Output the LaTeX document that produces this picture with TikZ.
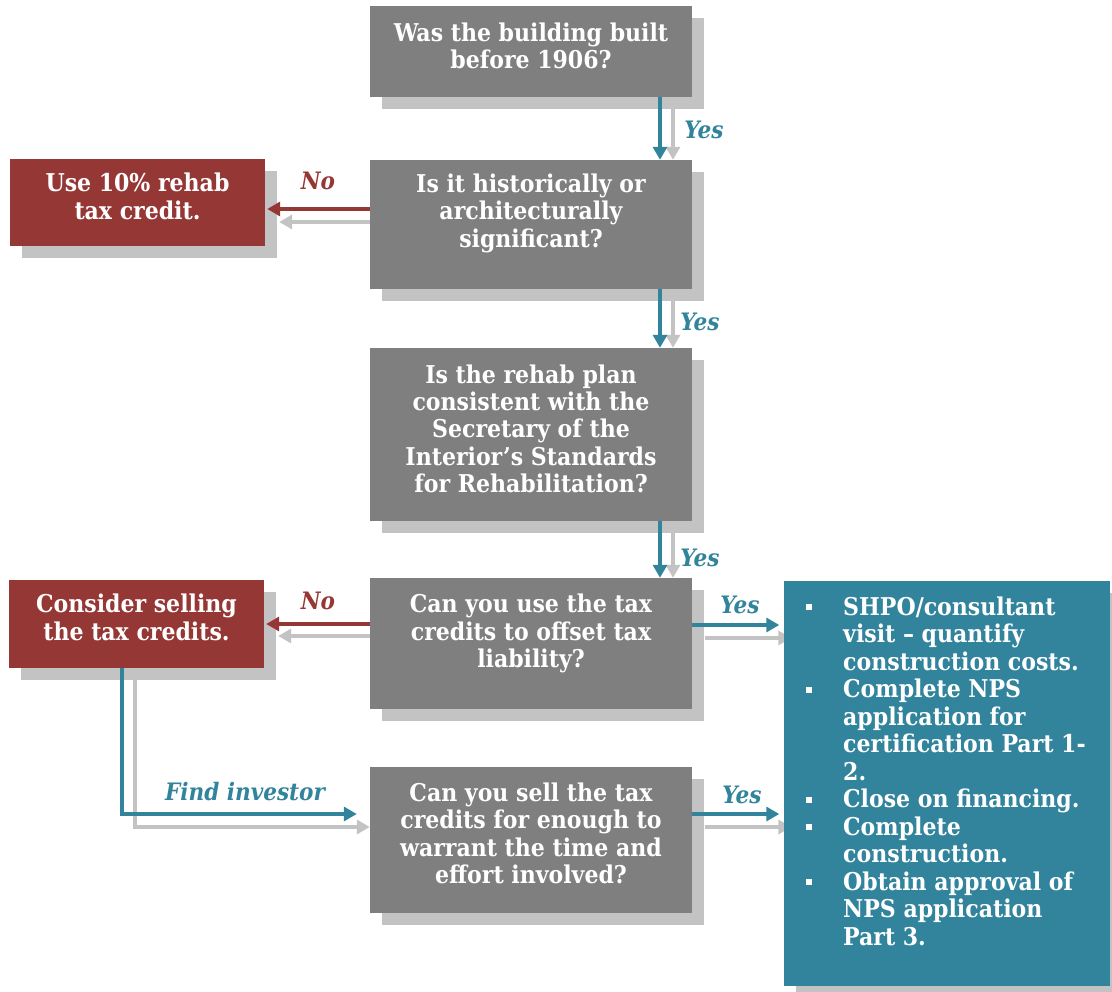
\documentclass[tikz,border=0pt]{standalone}
\usepackage{fontspec}
\setmainfont{DejaVu Serif Condensed}[BoldFont={DejaVu Serif Condensed Bold},ItalicFont={DejaVu Serif Condensed Italic},BoldItalicFont={DejaVu Serif Condensed Bold Italic}]
\usetikzlibrary{shadows,arrows.meta,calc}
\definecolor{boxgray}{HTML}{7F7F7F}
\definecolor{shad}{HTML}{C3C3C3}
\definecolor{dred}{HTML}{953735}
\definecolor{tealc}{HTML}{31849B}
\pgfdeclarelayer{bg}
\pgfsetlayers{bg,main}
\newcommand\btext[2]{\raisebox{#1}[\height][\depth]{\begin{tabular}{@{}c@{}}#2\end{tabular}}}
\newcommand\bul{\raisebox{5pt}{\rule{6pt}{6pt}}}
\tikzset{
  base/.style={rectangle, inner sep=0pt, text=white,
    font=\bfseries\fontsize{24.5}{27.5}\selectfont,
    drop shadow={shadow xshift=12pt, shadow yshift=-12pt, fill=shad, opacity=1}},
  qbox/.style={base, fill=boxgray, minimum width=322pt},
  rbox/.style={base, fill=dred, minimum width=255pt},
  tbox/.style={base, fill=tealc, minimum width=326pt, minimum height=405pt},
  arr/.style={line width=4pt, -{Triangle[length=13pt,width=14pt]}},
  tarr/.style={arr, draw=tealc},
  rarr/.style={arr, draw=dred},
  sarr/.style={arr, draw=shad},
  lab/.style={font=\bfseries\itshape\fontsize{24}{27.5}\selectfont}
}
\begin{document}
\begin{tikzpicture}[x=1pt,y=-1pt]
\useasboundingbox (0,0) rectangle (1112,992);
% boxes
\node[qbox, minimum height=91pt] (b1) at (531,51.5) {\btext{2pt}{Was the building built\\before 1906?}};
\node[qbox, minimum height=129pt] (b2) at (531,224.5) {\btext{10pt}{Is it historically or\\architecturally\\significant?}};
\node[qbox, minimum height=173pt] (b3) at (531,434.5) {\btext{2pt}{Is the rehab plan\\consistent with the\\Secretary of the\\Interior’s Standards\\for Rehabilitation?}};
\node[qbox, minimum height=131pt] (b4) at (531,643.5) {\btext{9pt}{Can you use the tax\\credits to offset tax\\liability?}};
\node[qbox, minimum height=146pt] (b5) at (531,840) {\btext{3pt}{Can you sell the tax\\credits for enough to\\warrant the time and\\effort involved?}};
\node[rbox, minimum height=87pt] (r1) at (137.5,203) {\btext{3pt}{Use 10\% rehab\\tax credit.}};
\node[rbox, minimum height=88pt] (r2) at (136.5,624) {\btext{3pt}{Consider selling\\the tax credits.}};
\node[tbox] (steps) at (946.5,783.5) {};
\node[anchor=north west, inner sep=0pt, text=white, font=\bfseries\fontsize{24.5}{27.5}\selectfont] (stepstext) at (806,596) {%
\begin{tabular}{@{}p{37pt}@{}l@{}}
\bul & SHPO/consultant\\
 & visit – quantify\\
 & construction costs.\\
\bul & Complete NPS\\
 & application for\\
 & certification Part 1-\\
 & 2.\\
\bul & Close on financing.\\
\bul & Complete\\
 & construction.\\
\bul & Obtain approval of\\
 & NPS application\\
 & Part 3.
\end{tabular}};
% helper coordinates
\coordinate (xa) at (660,0);
\coordinate (xas) at (673,0);
\coordinate (xe) at (122,0);
\coordinate (xes) at (135,0);
\coordinate (ya) at (0,209);
\coordinate (yas) at (0,222);
\coordinate (yb) at (0,624);
\coordinate (ybs) at (0,636);
\coordinate (yc) at (0,625);
\coordinate (ycs) at (0,638);
\coordinate (yd) at (0,814);
\coordinate (yds) at (0,827);
% shadow arrows
\begin{pgfonlayer}{bg}
\draw[sarr] ($(b1.south -| xas)+(0,12)$) -- (b2.north -| xas);
\draw[sarr] ($(b2.south -| xas)+(0,12)$) -- (b3.north -| xas);
\draw[sarr] ($(b3.south -| xas)+(0,12)$) -- (b4.north -| xas);
\draw[sarr] (b2.west |- yas) -- ($(r1.east |- yas)+(14,0)$);
\draw[sarr] (b4.west |- ybs) -- ($(r2.east |- ybs)+(14,0)$);
\draw[sarr] ($(b4.east |- ycs)+(13,0)$) -- ($(steps.west |- ycs)+(8,0)$);
\draw[sarr] ($(b5.east |- yds)+(13,0)$) -- ($(steps.west |- yds)+(8,0)$);
\draw[sarr] ($(r2.south -| xes)+(0,12)$) |- (b5.west |- yds);
\end{pgfonlayer}
% arrows
\draw[tarr] (b1.south -| xa) -- (b2.north -| xa);
\draw[tarr] (b2.south -| xa) -- (b3.north -| xa);
\draw[tarr] (b3.south -| xa) -- (b4.north -| xa);
\draw[rarr] (b2.west |- ya) -- ($(r1.east |- ya)+(2,0)$);
\draw[rarr] (b4.west |- yb) -- ($(r2.east |- yb)+(2,0)$);
\draw[tarr] (b4.east |- yc) -- ($(steps.west |- yc)+(-4,0)$);
\draw[tarr] (b5.east |- yd) -- ($(steps.west |- yd)+(-4,0)$);
\draw[tarr] (r2.south -| xe) |- ($(b5.west |- yd)+(-13,0)$);
% labels
\node[lab, text=tealc] (l1) at (704,130) {Yes};
\node[lab, text=tealc] (l2) at (700,322) {Yes};
\node[lab, text=tealc] (l3) at (700,558) {Yes};
\node[lab, text=tealc] (l4) at (740,605) {Yes};
\node[lab, text=tealc] (l5) at (742,795) {Yes};
\node[lab, text=dred] (l6) at (318,181) {No};
\node[lab, text=dred] (l7) at (318,601) {No};
\node[lab, text=tealc] (l8) at (245,792) {Find investor};
\end{tikzpicture}
\end{document}
